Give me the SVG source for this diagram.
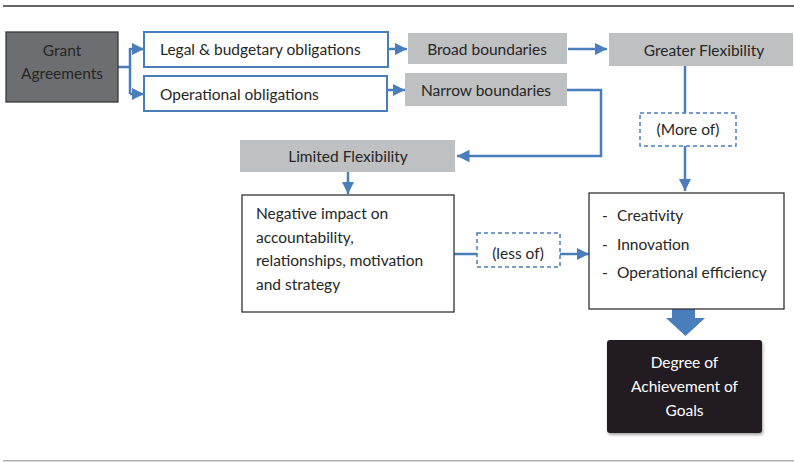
<svg xmlns="http://www.w3.org/2000/svg" width="794" height="462" viewBox="0 0 794 462">
<style>
text{font-family:Lato,"Open Sans","Liberation Sans",sans-serif;font-size:15.5px;fill:#262626}
.c{text-anchor:middle}
.gray{fill:#bfc0c2}
.blue{fill:#fff;stroke:#4a7ebb;stroke-width:2}
.dash{fill:#fff;stroke:#4a7ebb;stroke-width:1.5;stroke-dasharray:4 3}
.wbox{fill:#fff;stroke:#333;stroke-width:1.3}
.ln{fill:none;stroke:#4a7ebb;stroke-width:2.5}
</style>
<defs>
<marker id="ah" viewBox="0 0 10 10" refX="10" refY="5" markerWidth="5" markerHeight="5" markerUnits="strokeWidth" orient="auto">
<path d="M0,0 L10,5 L0,10 z" fill="#4a7ebb"/>
</marker>
<filter id="sh" x="-10%" y="-10%" width="125%" height="130%">
<feDropShadow dx="1" dy="2" stdDeviation="1.5" flood-color="#000" flood-opacity="0.35"/>
</filter>
</defs>
<rect x="3" y="5" width="791" height="2" fill="#666"/>
<rect x="3" y="460" width="791" height="1.5" fill="#b0b0b0"/>

<g id="connectors">
<path class="ln" d="M118,67 H130 M130,48 V94" />
<path class="ln" d="M130,49 H144" marker-end="url(#ah)"/>
<path class="ln" d="M130,94 H144" marker-end="url(#ah)"/>
<path class="ln" d="M377,49 H407" marker-end="url(#ah)"/>
<path class="ln" d="M372,90 H405" marker-end="url(#ah)"/>
<path class="ln" d="M568,49 H607" marker-end="url(#ah)"/>
<path class="ln" d="M567,90 H601 V156 H457" marker-end="url(#ah)"/>
<path class="ln" d="M348,172 V194" marker-end="url(#ah)"/>
<path class="ln" d="M685,66 V113"/>
<path class="ln" d="M685,146 V191" marker-end="url(#ah)"/>
<path class="ln" d="M454,254 H477"/>
<path class="ln" d="M560,254 H589" marker-end="url(#ah)"/>
<path d="M672,309 H695 V318 H705 L685.5,336 L666,318 H672 Z" fill="#4a7ebb"/>
</g>

<g id="grant">
<rect x="6" y="32" width="112" height="70" fill="#6d6e72" stroke="#3a3a3a" stroke-width="1.3"/>
<text class="c" x="62" y="56">Grant</text>
<text class="c" x="62" y="79">Agreements</text>
</g>
<g id="legal">
<rect class="blue" x="144" y="32" width="244" height="35"/>
<text x="160" y="55">Legal &amp; budgetary obligations</text>
</g>
<g id="operational">
<rect class="blue" x="144" y="76" width="243" height="35"/>
<text x="160" y="100">Operational obligations</text>
</g>
<g id="broad">
<rect class="gray" x="408" y="33" width="159" height="31"/>
<text class="c" x="487" y="55">Broad boundaries</text>
</g>
<g id="narrow">
<rect class="gray" x="405" y="73" width="162" height="33"/>
<text class="c" x="486" y="96">Narrow boundaries</text>
</g>
<g id="greater">
<rect class="gray" x="609" y="33" width="184" height="33"/>
<text class="c" x="704" y="56">Greater Flexibility</text>
</g>
<g id="moreof">
<rect class="dash" x="640" y="113" width="96" height="33"/>
<text class="c" x="688" y="135">(More of)</text>
</g>
<g id="limited">
<rect class="gray" x="240" y="140" width="215" height="32"/>
<text class="c" x="348" y="162">Limited Flexibility</text>
</g>
<g id="negative">
<rect class="wbox" x="242" y="195" width="212" height="117"/>
<text x="256" y="219">Negative impact on</text>
<text x="256" y="243">accountability,</text>
<text x="256" y="266">relationships, motivation</text>
<text x="256" y="290">and strategy</text>
</g>
<g id="lessof">
<rect class="dash" x="477" y="233" width="83" height="34"/>
<text class="c" x="518" y="259">(less of)</text>
</g>
<g id="outcomes">
<rect class="wbox" x="589" y="193" width="195" height="116"/>
<text x="602" y="221">-</text><text x="617" y="221">Creativity</text>
<text x="602" y="250">-</text><text x="617" y="250">Innovation</text>
<text x="602" y="278">-</text><text x="617" y="278">Operational efficiency</text>
</g>
<g id="goals">
<rect x="607" y="340" width="155" height="93" rx="3" fill="#231f20" filter="url(#sh)"/>
<text class="c" x="684.5" y="368" style="fill:#fff">Degree of</text>
<text class="c" x="684.5" y="392" style="fill:#fff">Achievement of</text>
<text class="c" x="684.5" y="416" style="fill:#fff">Goals</text>
</g>
</svg>
